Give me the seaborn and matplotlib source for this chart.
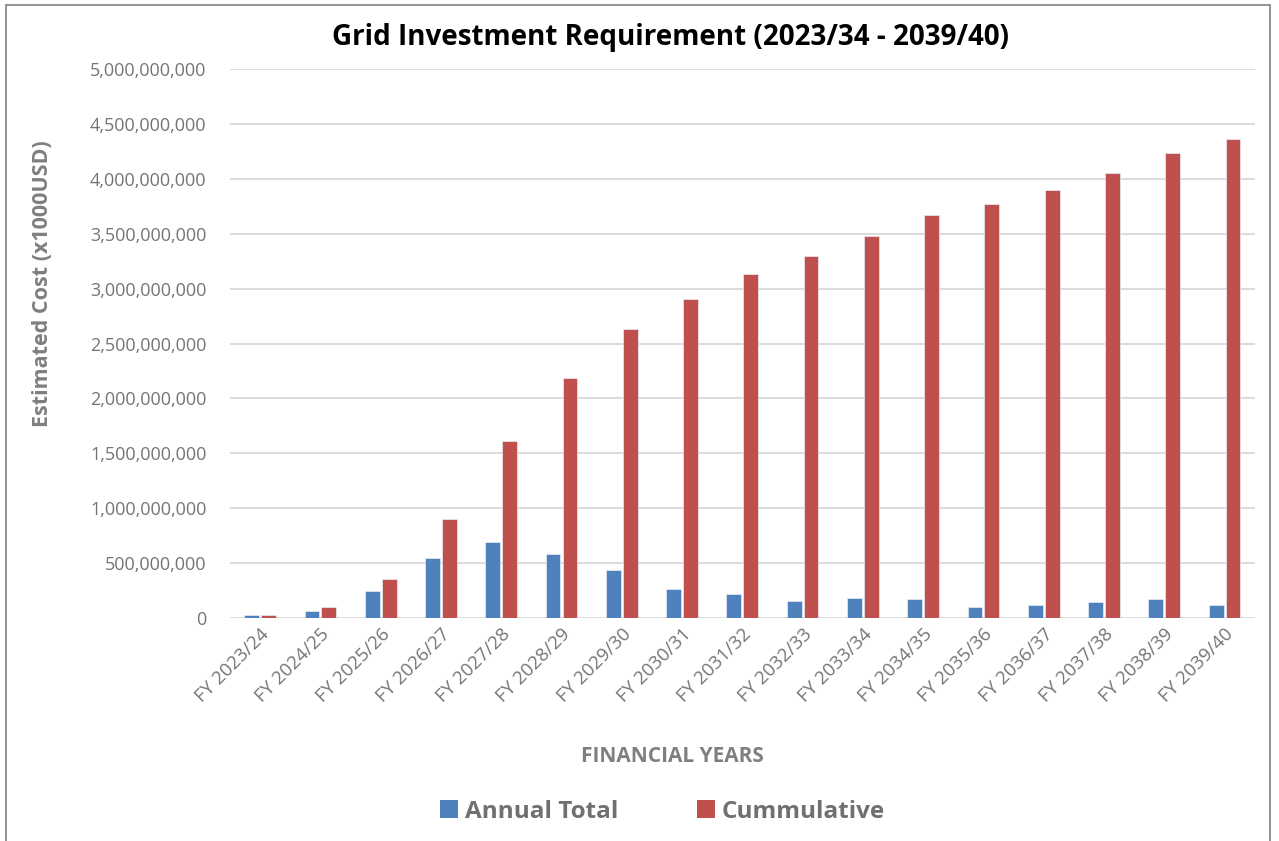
import matplotlib
matplotlib.use("Agg")
import matplotlib.pyplot as plt
import matplotlib.ticker as mticker
from matplotlib.patches import Rectangle
import seaborn as sns
import pandas as pd

years = ["FY 2023/24", "FY 2024/25", "FY 2025/26", "FY 2026/27", "FY 2027/28",
         "FY 2028/29", "FY 2029/30", "FY 2030/31", "FY 2031/32", "FY 2032/33",
         "FY 2033/34", "FY 2034/35", "FY 2035/36", "FY 2036/37", "FY 2037/38",
         "FY 2038/39", "FY 2039/40"]
annual_total = [33e6, 69e6, 246e6, 546e6, 695e6, 583e6, 440e6, 264e6, 221e6,
                155e6, 182e6, 178e6, 100e6, 118e6, 146e6, 173e6, 121e6]
cumulative = [33e6, 104e6, 352e6, 905e6, 1610e6, 2188e6, 2632e6, 2905e6, 3133e6,
              3297e6, 3481e6, 3670e6, 3772e6, 3898e6, 4051e6, 4233e6, 4360e6]
series_names = ["Annual Total", "Cummulative"]
colors = ["#4F81BD", "#C0504D"]

df = pd.concat([
    pd.DataFrame({"year": years, "value": annual_total, "series": series_names[0]}),
    pd.DataFrame({"year": years, "value": cumulative, "series": series_names[1]}),
])

sns.set_theme(style="white")
plt.rcParams["font.family"] = ["Open Sans", "DejaVu Sans"]

fig = plt.figure(figsize=(12.79, 8.41), dpi=100)
ax = fig.add_axes([0.1798, 0.265, 0.8012, 0.653])

sns.barplot(data=df, x="year", y="value", hue="series", palette=colors,
            saturation=1, width=0.56, gap=0.12, edgecolor="#E8EEF6",
            linewidth=0.5, ax=ax, legend=False, zorder=3)

ax.set_ylim(0, 5e9)
ax.set_xlim(-0.5, len(years) - 0.5)
ax.yaxis.set_major_locator(mticker.MultipleLocator(5e8))
ax.yaxis.set_major_formatter(mticker.FuncFormatter(lambda v, p: f"{v:,.0f}"))
ax.grid(axis="y", color="#D9D9D9", linewidth=1.3, zorder=0)
ax.set_axisbelow(True)
for s in ax.spines.values():
    s.set_visible(False)
ax.set_xlabel("")
ax.set_ylabel("")
ax.tick_params(axis="y", length=0, pad=17, labelsize=13, labelcolor="#757575")
ax.tick_params(axis="x", length=0, pad=5, labelsize=13.5, labelcolor="#757575")
plt.setp(ax.get_xticklabels(), rotation=45, ha="right", rotation_mode="anchor")

fig.text(0.524, 0.955, "Grid Investment Requirement (2023/34 - 2039/40)",
         ha="center", va="center", fontsize=20, fontweight="bold", color="black")
fig.text(0.033, 0.663, "Estimated Cost (x1000USD)", rotation=90, ha="center",
         va="center", fontsize=15.5, fontweight="bold", color="#7F7F7F")
fig.text(0.526, 0.1, "FINANCIAL YEARS", ha="center", va="center",
         fontsize=15, fontweight="bold", color="#7F7F7F")

handles = [Rectangle((0, 0), 1, 1, facecolor=c, edgecolor="none") for c in colors]
leg = fig.legend(handles, series_names, loc="center", bbox_to_anchor=(0.518, 0.035),
                 ncol=2, frameon=False, handlelength=0.75, handleheight=0.75,
                 handletextpad=0.3, columnspacing=3.2,
                 prop={"size": 17.5, "weight": "bold"})
for t in leg.get_texts():
    t.set_color("#707070")

fig.patches.append(Rectangle((0.005, -0.01), 0.988, 1.004, transform=fig.transFigure,
                             fill=False, edgecolor="#808080", linewidth=1.2))

fig.savefig("out.png", dpi=100)
